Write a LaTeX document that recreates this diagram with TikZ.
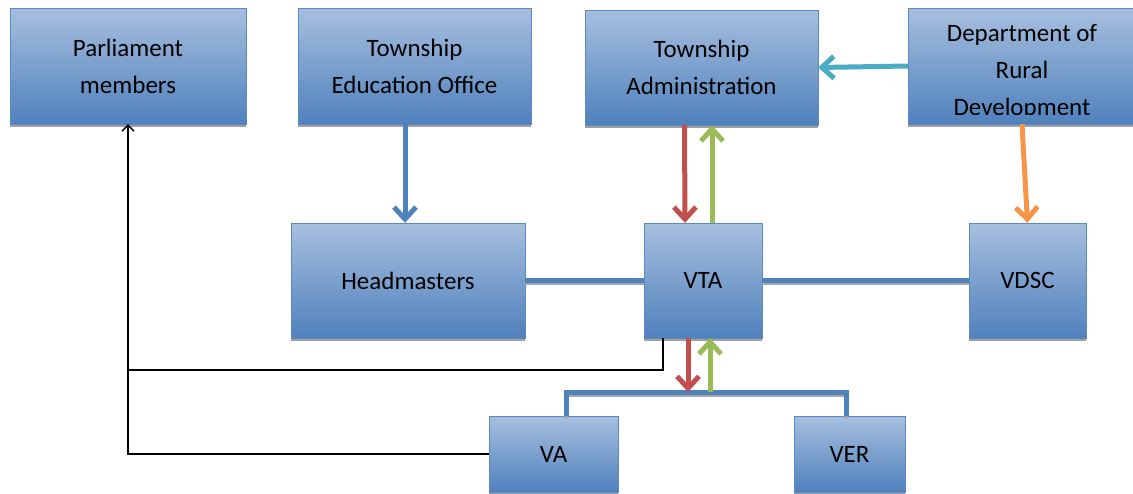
\documentclass[tikz,border=0pt]{standalone}
\usepackage{fontspec}
\setmainfont{Carlito}
\usetikzlibrary{arrows.meta,shadows}
\definecolor{box-top}{RGB}{167,191,222}
\definecolor{box-bottom}{RGB}{79,129,189}
\definecolor{box-edge}{RGB}{92,137,196}
\definecolor{link-blue}{RGB}{79,129,189}
\definecolor{link-cyan}{RGB}{75,172,198}
\definecolor{link-red}{RGB}{192,80,77}
\definecolor{link-green}{RGB}{155,187,89}
\definecolor{link-orange}{RGB}{247,150,70}
\tikzset{
    blue-box/.style = {draw=box-edge, thin, rectangle, top color=box-top, bottom color=box-bottom, inner sep=0pt, align=center, font=\fontsize{25}{37}\selectfont,
        drop shadow={shadow xshift=0pt, shadow yshift=-3pt, fill=gray!75, opacity=1}},
    box-text/.style = {align=center, inner sep=0pt, font=\fontsize{25}{37}\selectfont},
    fat-arrow/.style = {line width=5pt, -{Straight Barb[length=12pt, width=22pt]}},
    fat-line/.style = {line width=5pt, draw=link-blue, preaction={draw=gray!70, line width=3pt, transform canvas={yshift=-3pt}}},
    report-line/.style = {line width=1.4pt, draw=black},
}

\begin{document}
\begin{tikzpicture}[x=1pt, y=-1pt]
\useasboundingbox (0,0) rectangle (1133,493);

% top row
\node[blue-box, minimum width=236pt, minimum height=116pt] (pm) at (128,66) {Parliament\\members};
\node[blue-box, minimum width=233pt, minimum height=116pt] (teo) at (414.5,66) {Township\\Education Office};
\node[blue-box, minimum width=233pt, minimum height=115pt] (ta) at (701.5,67.5) {Township\\Administration};
\node[blue-box, minimum width=234pt, minimum height=116pt] (drd) at (1025,66) {};
\begin{scope}
    \clip (908,8) rectangle (1133,114);
    \node[box-text] (drd-text) at (1022,72) {Department of\\Rural\\Development};
\end{scope}

% middle row
\node[blue-box, minimum width=234pt, minimum height=115pt] (hm) at (408,280.5) {Headmasters};
\node[blue-box, minimum width=118pt, minimum height=115pt] (vta) at (703,280.5) {VTA};
\node[blue-box, minimum width=117pt, minimum height=115pt] (vdsc) at (1027.5,280.5) {VDSC};

% bottom row
\node[blue-box, minimum width=129pt, minimum height=76pt] (va) at (553.5,454) {VA};
\node[blue-box, minimum width=111pt, minimum height=76pt] (ver) at (849.5,454) {VER};

\coordinate (bus-left) at (566,392);
\coordinate (bus-right) at (846,392);
\coordinate (pm-join) at (128,370);

% links
\draw[fat-line] (hm.east) -- (vta.west);
\draw[fat-line] (vta.east) -- (vdsc.west);
\draw[fat-line] (va.north -| bus-left) -- (bus-left) -- (bus-right) -- (ver.north -| bus-right);

\draw[fat-arrow, link-blue] ([xshift=-9.5pt]teo.south) -- ([xshift=-9.5pt]teo.south |- hm.north);
\draw[fat-arrow, link-cyan] (drd.west) -- (ta.east);
\draw[fat-arrow, link-orange] ([xshift=-3pt]drd.south) -- (vdsc.north);
\draw[fat-arrow, link-red] ([xshift=-17pt]ta.south) -- ([xshift=-18pt]vta.north);
\draw[fat-arrow, link-green] ([xshift=9pt]vta.north) -- ([xshift=10.5pt]ta.south);
\draw[fat-arrow, link-red] ([xshift=-15pt]vta.south) -- ([xshift=-15pt]vta.south |- bus-left);
\draw[fat-arrow, link-green] ([xshift=7pt]vta.south |- bus-left) -- ([xshift=7pt]vta.south);

% reporting lines
\draw[report-line, -{Straight Barb[length=6pt, width=12pt]}] (va.west) -| (pm.south);
\draw[report-line] ([xshift=-40pt]vta.south) |- (pm-join);
\end{tikzpicture}
\end{document}
